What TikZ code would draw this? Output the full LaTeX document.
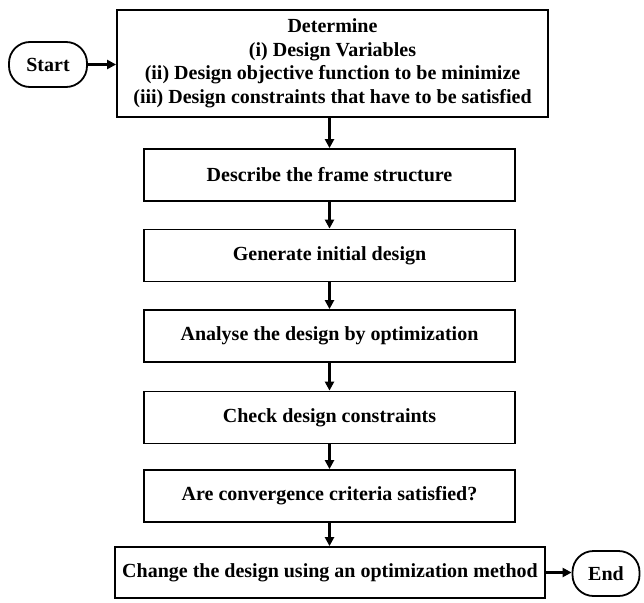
\documentclass[tikz,border=0pt]{standalone}
\usepackage{fontspec}
\setmainfont{Liberation Serif}
\usetikzlibrary{arrows.meta}
\begin{document}
\begin{tikzpicture}[x=1pt,y=1pt,
  box/.style={draw,line width=1.8pt,font=\fontsize{20}{23.5}\selectfont\bfseries,align=center,inner sep=0pt},
  term/.style={box,rounded corners=21pt},
  flow/.style={line width=2.6pt,-{Triangle[length=9pt,width=9pt]}}]
\useasboundingbox (0,0) rectangle (644,-602);
\node[box,minimum width=431,minimum height=107] (det) at (332.5,-63.5)
  {Determine\\(i) Design Variables\\(ii) Design objective function to be minimize\\(iii) Design constraints that have to be satisfied};
\node[term,minimum width=78,minimum height=45] (start) at (48,-64.5) {Start};
\node[box,minimum width=371,minimum height=52] (b2) at (329.5,-175) {Describe the frame structure};
\node[box,minimum width=371,minimum height=52] (b3) at (329.5,-255.5) {Generate initial design};
\node[box,minimum width=371,minimum height=52] (b4) at (329.5,-336) {Analyse the design by optimization};
\node[box,minimum width=371,minimum height=52] (b5) at (329.5,-417.5) {Check design constraints};
\node[box,minimum width=371,minimum height=52] (b6) at (329.5,-496) {Are convergence criteria satisfied?};
\node[box,minimum width=430,minimum height=51] (b7) at (330,-572.5) {Change the design using an optimization method};
\node[term,minimum width=67,minimum height=45] (end) at (606,-573.5) {End};
\draw[flow] (start.east) -- (det.west |- start.east);
\draw[flow] (det.south -| b2.north) -- (b2.north);
\draw[flow] (b2) -- (b3);
\draw[flow] (b3) -- (b4);
\draw[flow] (b4) -- (b5);
\draw[flow] (b5) -- (b6);
\draw[flow] (b6.south) -- (b6.south |- b7.north);
\draw[flow] (b7.east) -- (end.west |- b7.east);
\end{tikzpicture}
\end{document}
